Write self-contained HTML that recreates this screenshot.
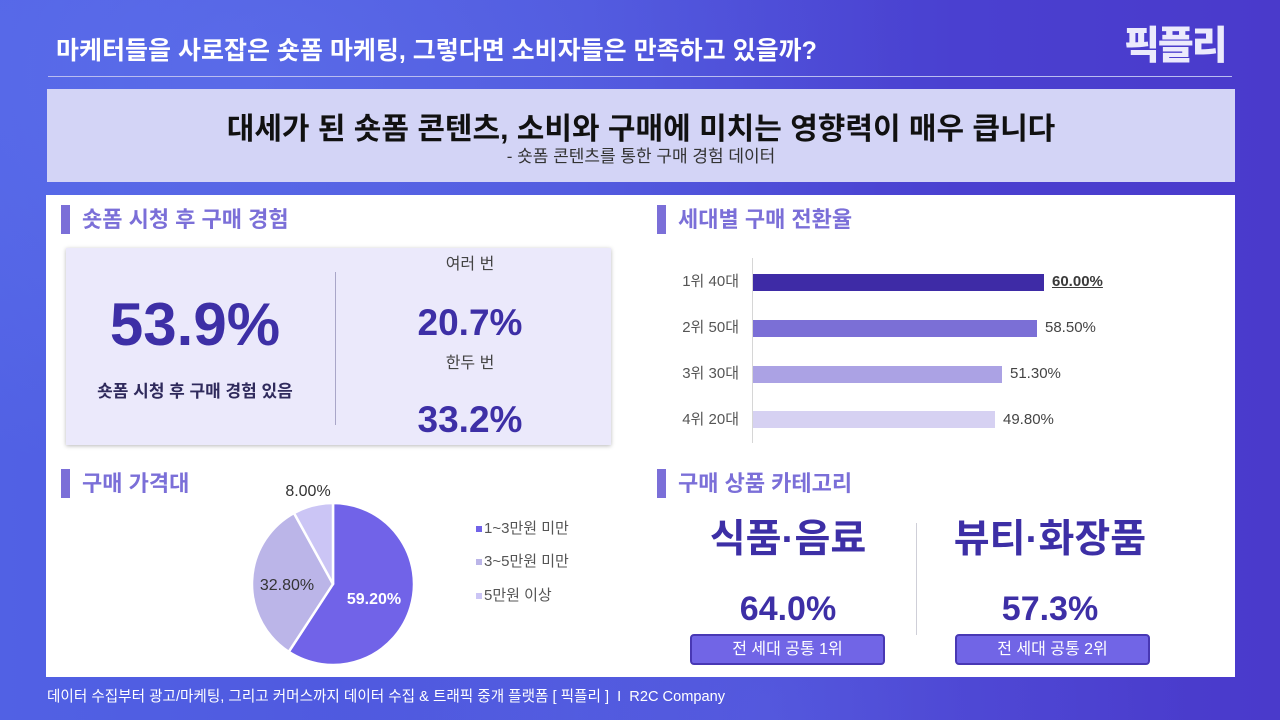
<!DOCTYPE html>
<html lang="ko">
<head>
<meta charset="utf-8">
<style>
  html,body{margin:0;padding:0;}
  body{width:1280px;height:720px;overflow:hidden;position:relative;
    font-family:"Liberation Sans","Noto Sans CJK KR",sans-serif;
    background:linear-gradient(90deg,#5161e4 0%,#4e55dc 45%,#4a40d0 75%,#4a3acb 100%);}
  .abs{position:absolute;white-space:nowrap;}
  .c{text-align:center;}
  .bg1{position:absolute;left:0;top:0;width:1280px;height:720px;
    background:radial-gradient(ellipse at 20% 10%,rgba(120,150,255,0.25),rgba(0,0,0,0) 45%),
               radial-gradient(ellipse at 60% 100%,rgba(120,150,255,0.18),rgba(0,0,0,0) 40%);}
  .sec-bar{position:absolute;width:9px;height:29px;background:#7b6fd8;}
  .sec-t{position:absolute;font-size:22px;line-height:26px;font-weight:700;color:#7b6fd8;white-space:nowrap;}
  .num{font-family:"Liberation Sans","Noto Sans CJK KR",sans-serif;font-weight:700;color:#3d2fa6;}
  .lbl{font-size:15px;line-height:18px;color:#555;}
  .bar{position:absolute;left:753px;height:17px;}
  .val{position:absolute;font-size:15px;line-height:18px;color:#444;}
  .leg{position:absolute;left:476px;width:6px;height:6px;}
  .legt{position:absolute;left:484px;font-size:15px;line-height:18px;color:#555;white-space:nowrap;}
  .btn{position:absolute;top:634px;width:191px;height:27px;background:#7165e6;border:2px solid #4838b4;border-radius:4px;
    color:#fff;font-size:16px;line-height:27px;text-align:center;}
</style>
</head>
<body>
<div class="bg1"></div>

<!-- header -->
<div class="abs" style="left:56px;top:36px;font-size:25px;line-height:30px;font-weight:700;color:#fff;">마케터들을 사로잡은 숏폼 마케팅, 그렇다면 소비자들은 만족하고 있을까?</div>
<div class="abs" style="left:1124px;top:23px;font-size:39px;line-height:48px;font-weight:900;color:#ebeafc;letter-spacing:-2px;">픽플리</div>
<div class="abs" style="left:48px;top:76px;width:1184px;height:1px;background:#b9bdf1;"></div>

<!-- banner -->
<div class="abs" style="left:47px;top:89px;width:1188px;height:93px;background:#d3d4f6;"></div>
<div class="abs c" style="left:47px;width:1188px;top:112px;font-size:30px;line-height:36px;font-weight:700;color:#111;">대세가 된 숏폼 콘텐츠, 소비와 구매에 미치는 영향력이 매우 큽니다</div>
<div class="abs c" style="left:47px;width:1188px;top:147px;font-size:17px;line-height:20px;color:#333;">- 숏폼 콘텐츠를 통한 구매 경험 데이터</div>

<!-- white panel -->
<div class="abs" style="left:46px;top:195px;width:1189px;height:482px;background:#fff;"></div>

<!-- section 1 -->
<div class="sec-bar" style="left:61px;top:205px;"></div>
<div class="sec-t" style="left:82px;top:207px;">숏폼 시청 후 구매 경험</div>
<div class="abs" style="left:66px;top:248px;width:545px;height:197px;background:#ebe9fb;box-shadow:0 1px 4px rgba(0,0,0,0.28);"></div>
<div class="abs" style="left:335px;top:272px;width:1px;height:153px;background:#a9a6c8;"></div>
<div class="abs c num" style="left:45px;width:300px;top:290px;font-size:60px;line-height:70px;">53.9%</div>
<div class="abs c" style="left:45px;width:300px;top:382px;font-size:17px;line-height:20px;font-weight:700;color:#2f2a5c;">숏폼 시청 후 구매 경험 있음</div>
<div class="abs c" style="left:370px;width:200px;top:255px;font-size:16px;line-height:20px;color:#444;">여러 번</div>
<div class="abs c num" style="left:370px;width:200px;top:301px;font-size:37px;line-height:44px;">20.7%</div>
<div class="abs c" style="left:370px;width:200px;top:354px;font-size:16px;line-height:20px;color:#444;">한두 번</div>
<div class="abs c num" style="left:370px;width:200px;top:398px;font-size:37px;line-height:44px;">33.2%</div>

<!-- section 2 -->
<div class="sec-bar" style="left:657px;top:205px;"></div>
<div class="sec-t" style="left:678px;top:207px;">세대별 구매 전환율</div>
<div class="abs" style="left:752px;top:258px;width:1px;height:185px;background:#d6d6d6;"></div>

<div class="abs lbl" style="left:640px;width:99px;text-align:right;top:273px;">1위 40대</div>
<div class="bar" style="top:274px;width:291px;background:#3e2ba6;"></div>
<div class="val" style="left:1052px;top:273px;font-weight:700;text-decoration:underline;color:#3a3a3a;">60.00%</div>

<div class="abs lbl" style="left:640px;width:99px;text-align:right;top:319px;">2위 50대</div>
<div class="bar" style="top:320px;width:284px;background:#7b6fd6;"></div>
<div class="val" style="left:1045px;top:319px;">58.50%</div>

<div class="abs lbl" style="left:640px;width:99px;text-align:right;top:365px;">3위 30대</div>
<div class="bar" style="top:366px;width:249px;background:#aba2e4;"></div>
<div class="val" style="left:1010px;top:365px;">51.30%</div>

<div class="abs lbl" style="left:640px;width:99px;text-align:right;top:411px;">4위 20대</div>
<div class="bar" style="top:411px;width:242px;background:#d6d1f2;"></div>
<div class="val" style="left:1003px;top:411px;">49.80%</div>

<!-- section 3 -->
<div class="sec-bar" style="left:61px;top:469px;"></div>
<div class="sec-t" style="left:82px;top:471px;">구매 가격대</div>

<svg class="abs" style="left:0;top:0;" width="1280" height="720" viewBox="0 0 1280 720">
  <path d="M333,584 L333,503 A81,81 0 1,1 288.73,651.84 Z" fill="#7163e8" stroke="#fff" stroke-width="2.5" stroke-linejoin="round"/>
  <path d="M333,584 L288.73,651.84 A81,81 0 0,1 293.97,513.02 Z" fill="#bbb5e8" stroke="#fff" stroke-width="2.5" stroke-linejoin="round"/>
  <path d="M333,584 L293.97,513.02 A81,81 0 0,1 333,503 Z" fill="#cbc5f5" stroke="#fff" stroke-width="2.5" stroke-linejoin="round"/>
</svg>
<div class="abs c" style="left:324px;width:100px;top:590px;font-size:16px;line-height:20px;font-weight:700;color:#fff;">59.20%</div>
<div class="abs c" style="left:237px;width:100px;top:576px;font-size:16px;line-height:20px;color:#333;">32.80%</div>
<div class="abs c" style="left:258px;width:100px;top:482px;font-size:16px;line-height:20px;color:#333;">8.00%</div>

<div class="leg" style="top:526px;background:#7163e8;"></div>
<div class="legt" style="top:520px;">1~3만원 미만</div>
<div class="leg" style="top:559px;background:#bbb5e8;"></div>
<div class="legt" style="top:553px;">3~5만원 미만</div>
<div class="leg" style="top:593px;background:#cbc5f5;"></div>
<div class="legt" style="top:587px;">5만원 이상</div>

<!-- section 4 -->
<div class="sec-bar" style="left:657px;top:469px;"></div>
<div class="sec-t" style="left:678px;top:471px;">구매 상품 카테고리</div>
<div class="abs" style="left:916px;top:523px;width:1px;height:112px;background:#cfcfd8;"></div>

<div class="abs c" style="left:638px;width:300px;top:516px;font-size:39px;line-height:48px;font-weight:700;color:#3d2fa6;">식품·음료</div>
<div class="abs c" style="left:900px;width:300px;top:516px;font-size:39px;line-height:48px;font-weight:700;color:#3d2fa6;">뷰티·화장품</div>
<div class="abs c num" style="left:688px;width:200px;top:589px;font-size:34px;line-height:40px;">64.0%</div>
<div class="abs c num" style="left:950px;width:200px;top:589px;font-size:34px;line-height:40px;">57.3%</div>
<div class="btn" style="left:690px;">전 세대 공통 1위</div>
<div class="btn" style="left:955px;">전 세대 공통 2위</div>

<!-- footer -->
<div class="abs" style="left:47px;top:688px;font-size:14.6px;line-height:18px;color:#fff;">데이터 수집부터 광고/마케팅, 그리고 커머스까지 데이터 수집 &amp; 트래픽 중개 플랫폼 [ 픽플리 ]&nbsp; I&nbsp; R2C Company</div>
</body>
</html>
